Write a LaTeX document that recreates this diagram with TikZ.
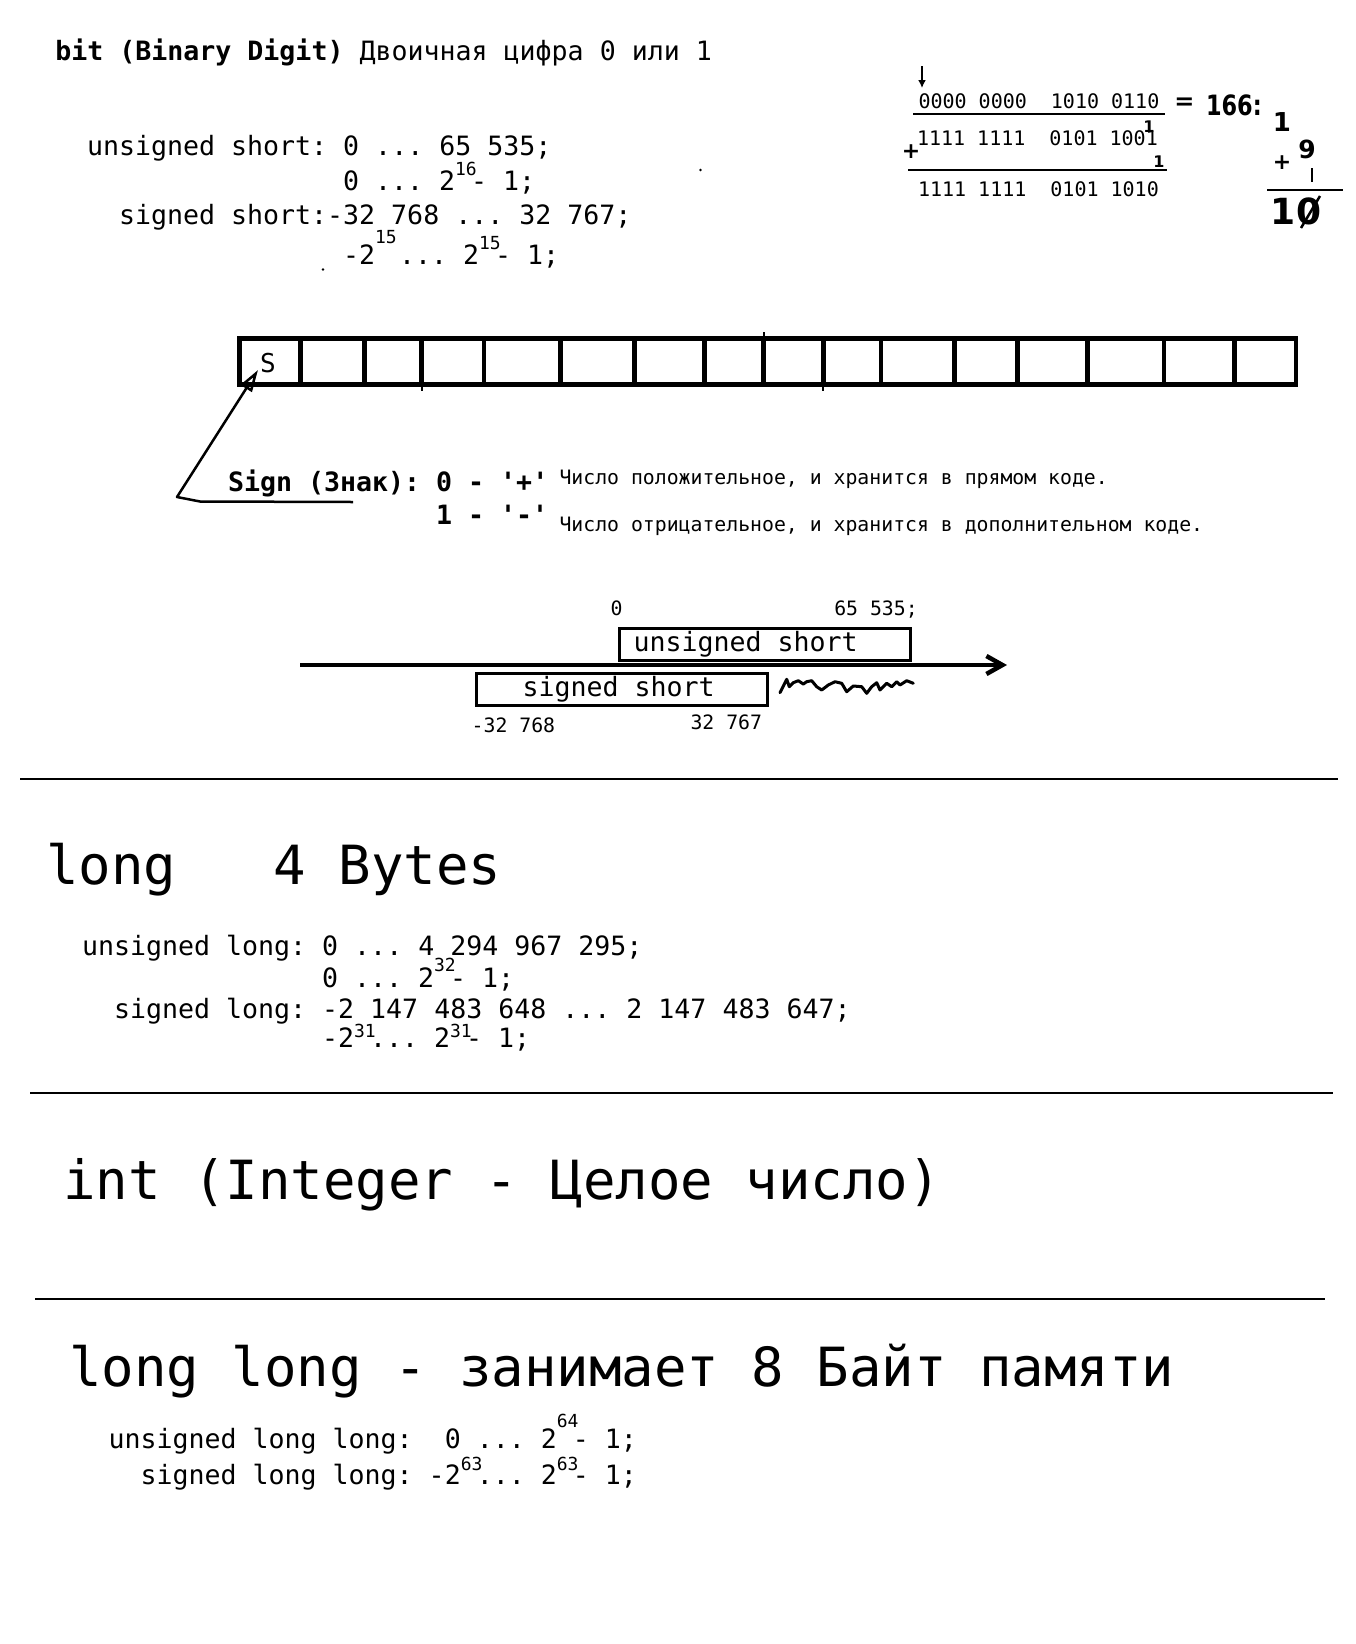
\documentclass[tikz,border=0pt]{standalone}
\usepackage{fontspec}
\setmonofont{DejaVu Sans Mono}
\newfontfamily\handfont{DejaVu Sans}
\usetikzlibrary{arrows.meta}
\newcommand\fsz[1]{\fontsize{#1pt}{#1pt}\selectfont}
\newcommand\supx[2]{\rlap{\raisebox{#1pt}{\fsz{18}#2}}}
\frenchspacing
\begin{document}
\begin{tikzpicture}[x=1pt,y=-1pt,
  mono/.style={anchor=base west, inner sep=0pt, outer sep=0pt, font=\ttfamily\fsz{26.6}},
  monob/.style={anchor=base west, inner sep=0pt, outer sep=0pt, font=\ttfamily\bfseries\fsz{26.6}},
  small/.style={anchor=base west, inner sep=0pt, outer sep=0pt, font=\ttfamily\fsz{19.8}},
  big/.style={anchor=base west, inner sep=0pt, outer sep=0pt, font=\ttfamily\fsz{54}},
  bin/.style={anchor=base west, inner sep=0pt, outer sep=0pt, font=\ttfamily\fsz{20}},
  hand/.style={inner sep=0pt, outer sep=0pt, font=\handfont\bfseries\fsz{#1}},
  sepline/.style={line width=2.5pt},
  cellline/.style={line width=4.7pt},
  rangebox/.style={draw, line width=3pt, anchor=north west, inner sep=0pt, minimum height=31.6pt},
]
\fill[white] (0,0) rectangle (1356,1644);
\useasboundingbox (0,0) rectangle (1356,1644);

% ---------- title ----------
\node[mono] (title) at (55.3,60) {{\bfseries bit (Binary Digit)} Двоичная цифра 0 или 1};

% ---------- short ranges ----------
\node[mono] (us)  at (87,155)  {unsigned short: 0 ... 65 535;};
\node[mono] (us2) at (343,190) {0 ... 2\supx{15}{16} - 1;};
\node[mono] (ss)  at (119,224) {signed short:-32 768 ... 32 767;};
\node[mono] (ss2) at (343,264) {-2\supx{21}{15}\hspace{24pt}... 2\supx{15}{15} - 1;};
\fill (700.5,170) circle (1.3);
\fill (323,269.5) circle (1.3);

% ---------- binary arithmetic ----------
\coordinate (da0) at (922,66);
\coordinate (da1) at (922,88);
\draw[line width=2pt, -{Latex[length=8pt,width=8pt]}] (da0) -- (da1);
\node[bin] (b1) at (918.5,108) {0000 0000\ \ 1010 0110};
\draw[line width=2.7pt] (913,114) -- (1165,114);
\node[hand=16] (c1) at (1149,127) {1};
\node[bin] (b2) at (917,145) {1111 1111\ \ 0101 1001};
\node[hand=22] (plus1) at (911,152) {+};
\node[hand=16] (c2) at (1159,162) {1};
\draw[line width=2.7pt] (908,170) -- (1167,170);
\node[bin] (b3) at (918,196) {1111 1111\ \ 0101 1010};
\node[hand=24] (eq) at (1184.5,103.5) {=};
\node[hand=28, anchor=west] (v166) at (1206,105) {\scalebox{0.8}[1]{166:}};
\node[hand=26] (r1) at (1282,122) {1};
\node[hand=25] (r9) at (1307,149) {9};
\node[hand=22] (rplus) at (1282,163) {+};
\draw[line width=2.5pt] (1312,168) -- (1312,182);
\draw[line width=2.5pt] (1267,190) -- (1343,190);
\node[hand=36] (r10) at (1296,211.5) {10};
\draw[line width=2.5pt] (1301,228) -- (1320,196);

% ---------- bit cells ----------
\draw[cellline] (239.5,338.5) rectangle (1296,384.5);
\foreach \x in {300.5,364.5,421.5,484,560.5,634.5,704.5,763.5,823.2,881,954.3,1017.2,1087.5,1164,1234.3}
  \draw[cellline] (\x,338.5) -- (\x,384.5);
\draw[line width=2pt] (763.5,332) -- (763.5,338);
\draw[line width=2pt] (421.5,385) -- (421.5,391);
\draw[line width=2pt] (823.2,385) -- (823.2,391);
\node[anchor=base west, inner sep=0pt, font=\ttfamily\fsz{26}] (S) at (260,372) {S};

% pointer to sign bit
\coordinate (p0) at (353,502);
\coordinate (p1) at (200,501.5);
\coordinate (p2) at (177,497);
\coordinate (tip) at (258,370);
\draw[line width=2.5pt, line join=round, -{Triangle[open,length=22pt,width=13pt]}] (p0) -- (p1) -- (p2) -- (tip);

\node[monob] (sign)  at (228,491) {Sign (Знак): 0 - '+'};
\node[monob] (minus) at (436,524) {1 - '-'};
\node[small] (pos) at (559.5,484.5) {Число положительное, и хранится в прямом коде.};
\node[small] (neg) at (559.5,531.7) {Число отрицательное, и хранится в дополнительном коде.};

% ---------- number line ----------
\coordinate (ax0) at (300,665);
\coordinate (ax1) at (1007,665);
\draw[line width=4.5pt, -{Straight Barb[length=16pt,width=18pt]}] (ax0) -- (ax1);
\node[rangebox, minimum width=291.5pt] (ubox) at (617.7,627) {};
\node[mono] (utxt) at (633.5,651) {unsigned short};
\node[rangebox, minimum width=290.5pt] (sbox) at (475,672) {};
\node[mono] (stxt) at (522.5,696) {signed short};
\node[small] (l0)   at (610.5,615.6) {0};
\node[small] (l65)  at (834.3,615.6) {65 535;};
\node[small] (lm32) at (471.7,732) {-32 768};
\node[small] (l32)  at (690.5,729) {32 767};
\draw[line width=3pt, line join=round, line cap=round] plot coordinates {
 (780,692.7) (786.7,679.3) (789.3,686.7) (793.3,682.7) (798.3,680.7) (803.3,684)
 (806.7,681.7) (811.7,680.7) (816.7,686.7) (821.7,690) (828.3,685) (835,681.7)
 (841.7,683.3) (846.7,691.7) (853.3,686) (861.7,686.7) (866.7,693.3) (871.7,686.7)
 (876.7,682.7) (880,690) (886.7,683.3) (891.7,686.7) (896.7,681.7) (900,685)
 (906.7,680.7) (913.3,683.3)};

% ---------- separators ----------
\draw[sepline] (20,779) -- (1338,779);
\draw[sepline] (30,1093) -- (1333,1093);
\draw[sepline] (35,1299) -- (1325,1299);

% ---------- long ----------
\node[big]  (long) at (46,884) {long\ \ \ 4 Bytes};
\node[mono] (ul)   at (82,955)  {unsigned long: 0 ... 4 294 967 295;};
\node[mono] (ul2)  at (322,987) {0 ... 2\supx{16}{32} - 1;};
\node[mono] (sl)   at (114,1018) {signed long: -2 147 483 648 ... 2 147 483 647;};
\node[mono] (sl2)  at (322,1047) {-2\supx{10}{31}\hspace{16pt}... 2\supx{10}{31} - 1;};

% ---------- int ----------
\node[big] (int) at (63,1199) {int (Integer - Целое число)};

% ---------- long long ----------
\node[big]  (ll)  at (69,1386) {long long - занимает 8 Байт памяти};
\node[mono] (ull) at (108.5,1448) {unsigned long long:\ \ 0 ... 2\supx{21}{64} - 1;};
\node[mono] (sll) at (140.5,1484) {signed long long: -2\supx{14}{63}\hspace{16pt}... 2\supx{14}{63} - 1;};
\end{tikzpicture}
\end{document}
